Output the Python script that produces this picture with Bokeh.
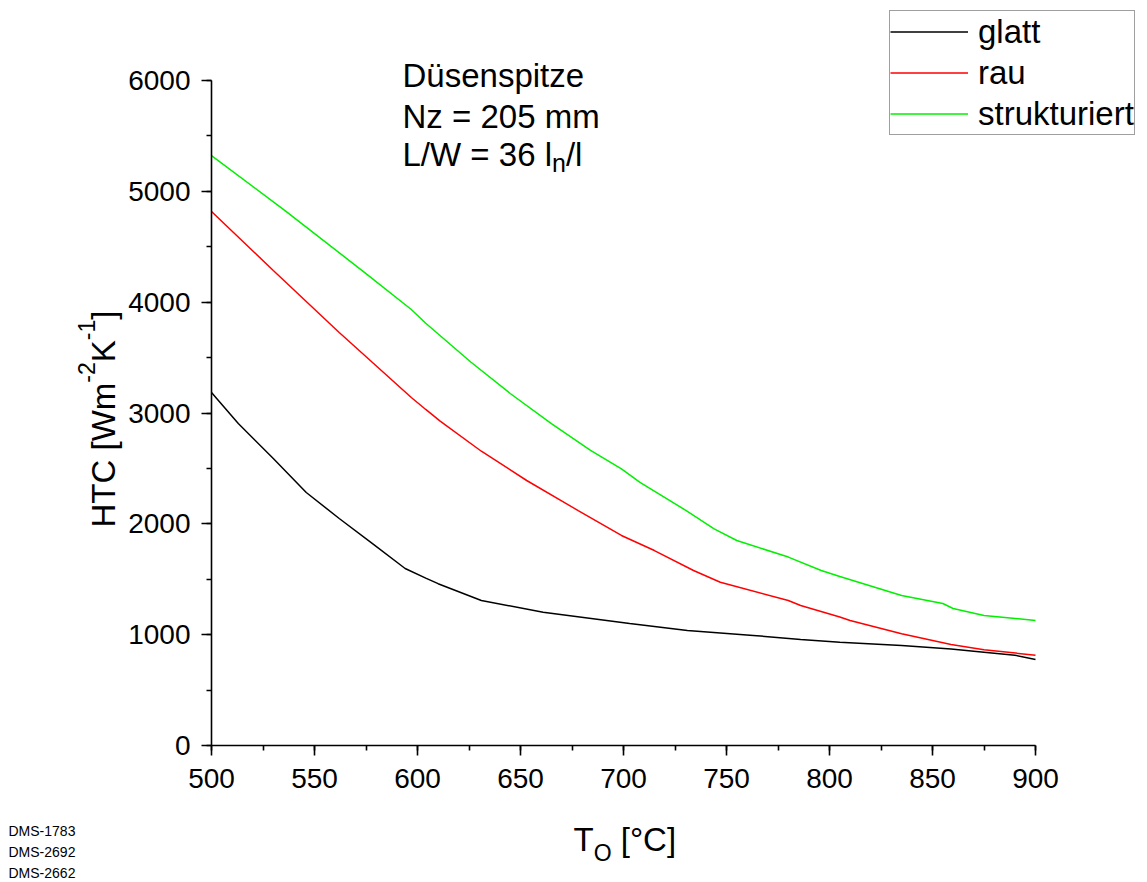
import math
from bokeh.plotting import figure
from bokeh.models import Label, Legend, LegendItem, Range1d, SingleIntervalTicker
from bokeh.embed import file_html
from bokeh.resources import INLINE

# ---------------- data ----------------
glatt_T = [500, 513, 530, 546, 562, 578, 594, 604, 610, 631, 661, 703, 731, 763, 786, 805, 835, 859, 875, 890, 900]
glatt_HTC = [3185, 2905, 2590, 2283, 2048, 1823, 1597, 1510, 1460, 1308, 1203, 1100, 1037, 993, 956, 932, 902, 870, 842, 815, 775]

rau_T = [500, 530, 562, 597, 604, 611, 631, 653, 678, 699, 715, 734, 747, 780, 786, 805, 810, 835, 859, 875, 900]
rau_HTC = [4818, 4286, 3726, 3140, 3032, 2926, 2655, 2391, 2120, 1895, 1759, 1579, 1473, 1308, 1263, 1160, 1128, 1008, 911, 863, 815]

struk_T = [500, 536, 575, 597, 604, 626, 645, 665, 684, 699, 708, 731, 744, 755, 780, 796, 805, 835, 855, 860, 875, 900]
struk_HTC = [5323, 4821, 4258, 3934, 3810, 3458, 3176, 2905, 2662, 2495, 2375, 2113, 1954, 1850, 1700, 1579, 1525, 1353, 1281, 1236, 1173, 1128]

series_names = ["glatt", "rau", "strukturiert"]
series_colors = ["#000000", "#FF0000", "#00F000"]

annotation_lines = ["Düsenspitze", "Nz = 205 mm"]
x_label = ["T", "O", "[°C]"]
y_label = ["HTC [Wm", "-2", "K", "-1", "]"]
footer_lines = ["DMS-1783", "DMS-2692", "DMS-2662"]

FONT = "Liberation Sans"

# Arial / Liberation Sans advance widths (per em) for composing sub/superscripts
W = {' ': .278, '-': .333, '/': .278, '=': .584, '[': .278, ']': .278, '°': .400,
     'C': .722, 'H': .722, 'K': .667, 'L': .556, 'O': .778, 'T': .611, 'W': .944,
     'l': .222, 'm': .833, 'n': .556}
for d in "0123456789":
    W[d] = .556


def tw(s, size):
    return sum(W.get(c, .556) for c in s) * size


WIDTH, HEIGHT = 1147, 882
# plot area in pixels: x 211..1035 (500..900), y 80..745 (6000..0)
PX_L, PX_R, PX_T, PX_B = 211, 1035, 80, 745
kx = (PX_R - PX_L) / 400.0
ky = (PX_B - PX_T) / 6000.0
x_rng = Range1d(500 - PX_L / kx, 900 + (WIDTH - PX_R) / kx)
y_rng = Range1d(-(HEIGHT - PX_B) / ky, 6000 + PX_T / ky)

p = figure(width=WIDTH, height=HEIGHT, output_backend="svg", toolbar_location=None,
           x_range=x_rng, y_range=y_rng,
           min_border_left=0, min_border_right=0, min_border_top=0, min_border_bottom=0)
p.grid.visible = False
p.outline_line_color = None
p.background_fill_color = "white"
p.border_fill_color = "white"

p.xaxis.ticker = SingleIntervalTicker(interval=50, num_minor_ticks=2)
p.yaxis.ticker = SingleIntervalTicker(interval=1000, num_minor_ticks=2)
p.xaxis.fixed_location = 0
p.yaxis.fixed_location = 500
p.xaxis.bounds = (500, 900)
p.yaxis.bounds = (0, 6000)
for ax in (p.xaxis, p.yaxis):
    ax.axis_line_width = 1.6
    ax.axis_line_color = "black"
    ax.major_tick_line_width = 1.6
    ax.minor_tick_line_width = 1.6
    ax.major_tick_line_color = "black"
    ax.minor_tick_line_color = "black"
    ax.major_tick_out = 10
    ax.major_tick_in = 0
    ax.minor_tick_out = 5
    ax.minor_tick_in = 0
    ax.major_label_text_font = FONT
    ax.major_label_text_font_size = "28px"
    ax.major_label_text_color = "black"
p.xaxis.major_label_standoff = 13
p.yaxis.major_label_standoff = 11

renderers = []
for xs, ys, c in zip([glatt_T, rau_T, struk_T], [glatt_HTC, rau_HTC, struk_HTC], series_colors):
    r = p.line(xs, ys, line_color=c, line_width=1.5)
    renderers.append(r)

legend = Legend(items=[LegendItem(label=n, renderers=[r]) for n, r in zip(series_names, renderers)],
                location=(889, HEIGHT - 135), padding=0, spacing=0, margin=0,
                glyph_width=78, glyph_height=41, label_height=41, label_standoff=10,
                label_text_font=FONT, label_text_font_size="33px", label_text_color="black",
                border_line_color="#404040", border_line_width=1,
                background_fill_color="white", background_fill_alpha=1)
p.add_layout(legend)


def lab(text, x, y, size, angle=0.0):
    # x, y in picture pixels from the top-left corner (y = baseline)
    p.add_layout(Label(x=x, y=HEIGHT - y, x_units="screen", y_units="screen", text=text,
                       text_font=FONT, text_font_size=f"{size}px", text_color="black",
                       text_baseline="alphabetic", text_align="left", angle=angle))


# annotation block
AF = 33
lab(annotation_lines[0], 402, 75, AF)
lab(annotation_lines[1], 402, 116, AF)
s0 = "L/W = 36 l"
lab(s0, 402, 154, AF)
xsub = 402 + tw(s0, AF)
lab("n", xsub, 162, 25)
lab("/l", xsub + tw("n", 25), 154, AF)

# x axis label
XF, XS = 33, 23
lab(x_label[0], 573, 839, XF)
xo = 573 + tw("T", XF)
lab(x_label[1], xo, 852, XS)
lab(x_label[2], xo + tw("O", XS) + tw(" ", XF), 839, XF)

# y axis label (rotated, reads bottom to top)
YF, YS = 33, 23
ang = math.pi / 2
xb = 103
ypos = 527
lab(y_label[0], xb, ypos, YF, ang)
ypos -= tw(y_label[0], YF)
lab(y_label[1], xb - 17, ypos, YS, ang)
ypos -= tw(y_label[1], YS)
lab(y_label[2], xb, ypos, YF, ang)
ypos -= tw(y_label[2], YF)
lab(y_label[3], xb - 17, ypos, YS, ang)
ypos -= tw(y_label[3], YS)
lab(y_label[4], xb, ypos, YF, ang)

# footer
for i, t in enumerate(footer_lines):
    lab(t, 8, 830 + 21 * i, 14)

open("out.html", "w").write(file_html(p, INLINE))
